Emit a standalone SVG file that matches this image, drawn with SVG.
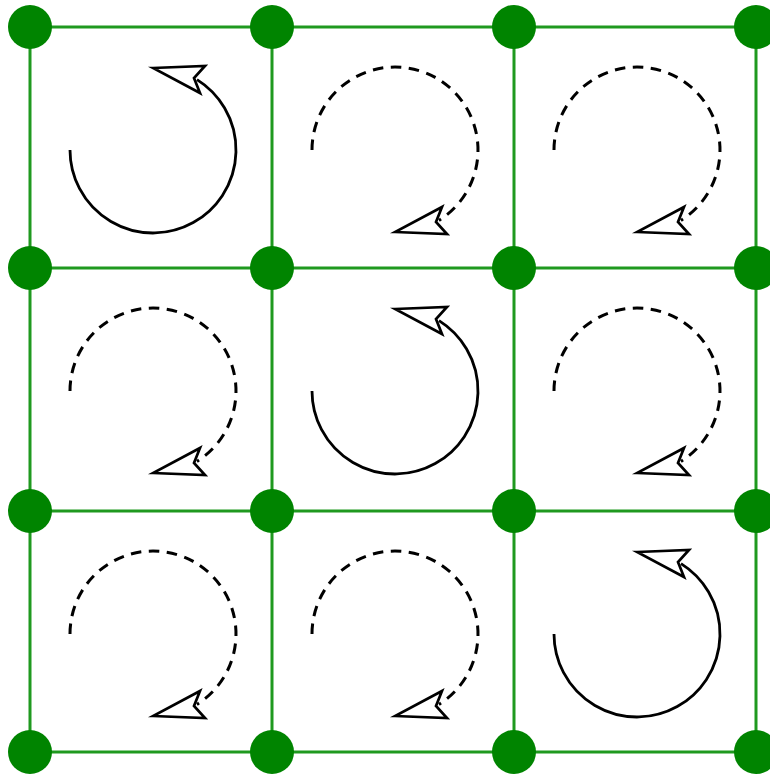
<svg xmlns="http://www.w3.org/2000/svg" width="770" height="777" viewBox="0 0 770 777">
<style>
.grid{stroke:#1f991f;stroke-width:3;fill:none}
.dot{fill:#008400}
.solid{stroke:#000;stroke-width:2.8;fill:none}
.dash{stroke:#000;stroke-width:3;fill:none;stroke-dasharray:10.5 7.5}
.head{fill:#fff;stroke:#000;stroke-width:2.7;stroke-linejoin:miter}
</style>
<defs>
<g id="cw">
<path class="solid" d="M-83,0 A83,83 0 1 0 44,-70.4"/>
<polygon class="head" points="0,-82 52,-84 41,-72 47,-57"/>
</g>
<g id="ccw">
<path class="dash" d="M-83,0 A83,83 0 1 1 44,70.4"/>
<polygon class="head" points="0,82 52,84 41,72 47,57"/>
</g>
</defs>
<rect width="770" height="777" fill="#fff"/>
<g id="connectors" class="grid">
<line x1="30" y1="27" x2="756" y2="27"/>
<line x1="30" y1="268" x2="756" y2="268"/>
<line x1="30" y1="511" x2="756" y2="511"/>
<line x1="30" y1="752" x2="756" y2="752"/>
<line x1="30" y1="27" x2="30" y2="752"/>
<line x1="272" y1="27" x2="272" y2="752"/>
<line x1="514" y1="27" x2="514" y2="752"/>
<line x1="756" y1="27" x2="756" y2="752"/>
</g>
<g id="rotations">
<use href="#cw" x="153" y="150"/>
<use href="#ccw" x="395" y="150"/>
<use href="#ccw" x="637" y="150"/>
<use href="#ccw" x="153" y="391"/>
<use href="#cw" x="395" y="391"/>
<use href="#ccw" x="637" y="391"/>
<use href="#ccw" x="153" y="634"/>
<use href="#ccw" x="395" y="634"/>
<use href="#cw" x="637" y="634"/>
</g>
<g id="n00"><circle class="dot" cx="30" cy="27" r="22"/></g>
<g id="n10"><circle class="dot" cx="272" cy="27" r="22"/></g>
<g id="n20"><circle class="dot" cx="514" cy="27" r="22"/></g>
<g id="n30"><circle class="dot" cx="756" cy="27" r="22"/></g>
<g id="n01"><circle class="dot" cx="30" cy="268" r="22"/></g>
<g id="n11"><circle class="dot" cx="272" cy="268" r="22"/></g>
<g id="n21"><circle class="dot" cx="514" cy="268" r="22"/></g>
<g id="n31"><circle class="dot" cx="756" cy="268" r="22"/></g>
<g id="n02"><circle class="dot" cx="30" cy="511" r="22"/></g>
<g id="n12"><circle class="dot" cx="272" cy="511" r="22"/></g>
<g id="n22"><circle class="dot" cx="514" cy="511" r="22"/></g>
<g id="n32"><circle class="dot" cx="756" cy="511" r="22"/></g>
<g id="n03"><circle class="dot" cx="30" cy="752" r="22"/></g>
<g id="n13"><circle class="dot" cx="272" cy="752" r="22"/></g>
<g id="n23"><circle class="dot" cx="514" cy="752" r="22"/></g>
<g id="n33"><circle class="dot" cx="756" cy="752" r="22"/></g>
</svg>
